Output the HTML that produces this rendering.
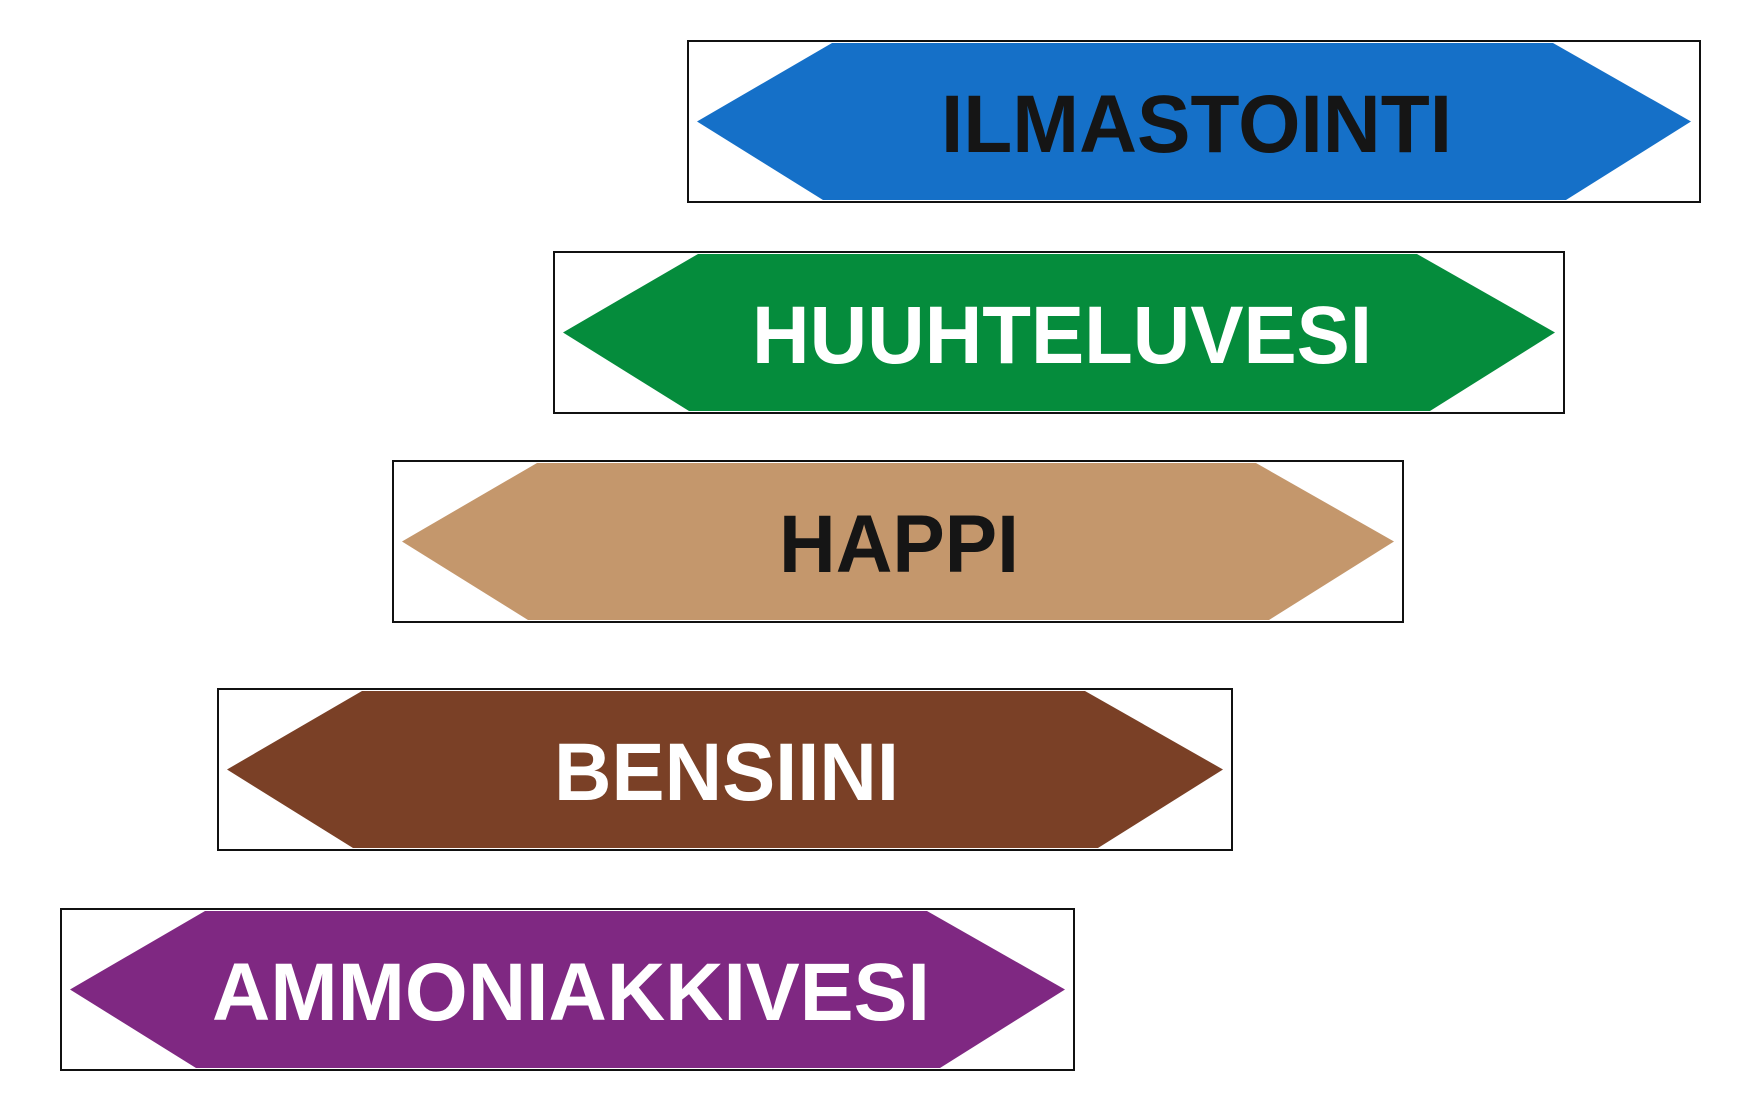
<!DOCTYPE html>
<html><head><meta charset="utf-8"><style>html,body{margin:0;padding:0;background:#fff;}svg{display:block}</style></head>
<body>
<svg width="1740" height="1110" viewBox="0 0 1740 1110" xmlns="http://www.w3.org/2000/svg" font-family="Liberation Sans, sans-serif" font-weight="bold">
<g transform="translate(688,41)">
<rect x="0" y="0" width="1012" height="161" fill="#fff" stroke="#111" stroke-width="2"/>
<polygon points="9,80.5 144,2 865,2 1003,80.5 878,159 135,159" fill="#1570c8"/>
<text x="253" y="111" font-size="82" fill="#151515" textLength="511" lengthAdjust="spacingAndGlyphs">ILMASTOINTI</text>
</g>
<g transform="translate(554,252)">
<rect x="0" y="0" width="1010" height="161" fill="#fff" stroke="#111" stroke-width="2"/>
<polygon points="9,80.5 144,2 863,2 1001,80.5 876,159 135,159" fill="#058c3c"/>
<text x="198" y="111" font-size="82" fill="#fff" textLength="620" lengthAdjust="spacingAndGlyphs">HUUHTELUVESI</text>
</g>
<g transform="translate(393,461)">
<rect x="0" y="0" width="1010" height="161" fill="#fff" stroke="#111" stroke-width="2"/>
<polygon points="9,80.5 144,2 863,2 1001,80.5 876,159 135,159" fill="#c4976c"/>
<text x="386" y="111" font-size="82" fill="#151515" textLength="240" lengthAdjust="spacingAndGlyphs">HAPPI</text>
</g>
<g transform="translate(218,689)">
<rect x="0" y="0" width="1014" height="161" fill="#fff" stroke="#111" stroke-width="2"/>
<polygon points="9,80.5 144,2 867,2 1005,80.5 880,159 135,159" fill="#7a4026"/>
<text x="336" y="111" font-size="82" fill="#fff" textLength="345" lengthAdjust="spacingAndGlyphs">BENSIINI</text>
</g>
<g transform="translate(61,909)">
<rect x="0" y="0" width="1013" height="161" fill="#fff" stroke="#111" stroke-width="2"/>
<polygon points="9,80.5 144,2 866,2 1004,80.5 879,159 135,159" fill="#7f2882"/>
<text x="151" y="111" font-size="82" fill="#fff" textLength="718" lengthAdjust="spacingAndGlyphs">AMMONIAKKIVESI</text>
</g>
</svg>
</body></html>
